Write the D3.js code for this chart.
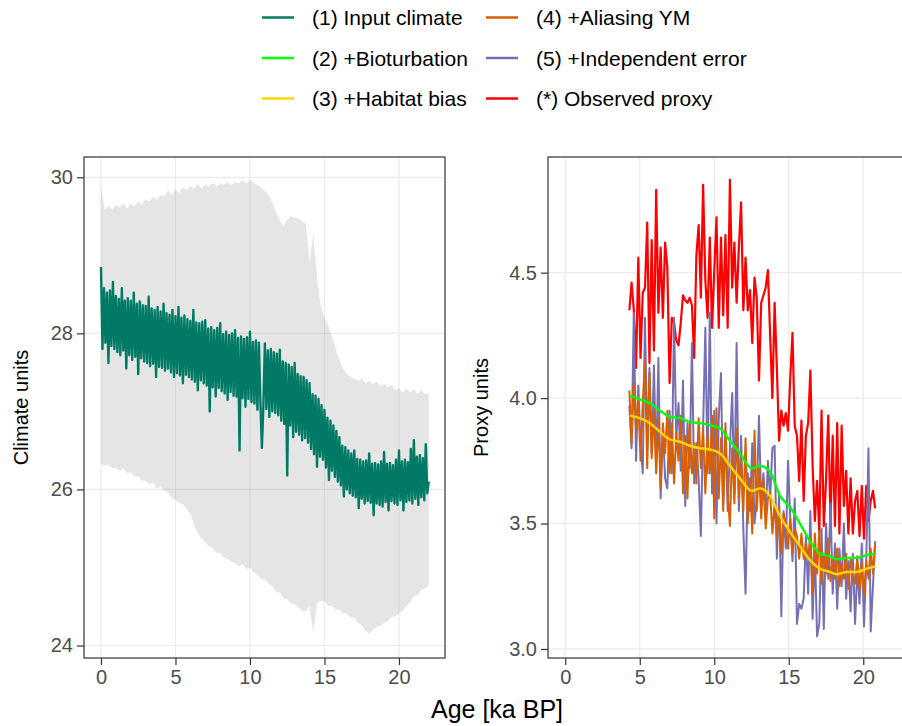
<!DOCTYPE html>
<html>
<head>
<meta charset="utf-8">
<script src="https://cdn.jsdelivr.net/npm/d3@7"></script>
<style>
body { margin: 0; background: #fff; }
text { font-family: "Liberation Sans", Arial, Helvetica, sans-serif; }
</style>
</head>
<body>
<div id="chart"></div>
<script>
var W = 902, H = 726;

// legend
var legendLabels = ['(1) Input climate', '(2) +Bioturbation', '(3) +Habitat bias',
                    '(4) +Aliasing YM', '(5) +Independent error', '(*) Observed proxy'];
var legendColors = ['#007a65', '#00ff00', '#ffd700', '#d95f02', '#7570b3', '#ff0000'];

var xTicks = [0, 5, 10, 15, 20];
var climTicks = [24, 26, 28, 30];
var proxyTicks = [3.0, 3.5, 4.0, 4.5];

// left panel: input climate, sampled every 0.1 ka from 0 to 22 ka
var climAge = d3.range(0, 22.05, 0.1);
var climVal = [
  28.85, 27.80, 28.58, 27.88, 28.52, 27.62, 28.55, 27.84, 28.66, 27.80,
  28.48, 27.76, 28.44, 27.72, 28.58, 27.78, 28.42, 27.55, 28.45, 27.72,
  28.42, 27.66, 28.52, 27.70, 28.38, 27.48, 28.41, 27.68, 28.36, 27.64,
  28.35, 27.62, 28.47, 27.58, 28.32, 27.61, 28.30, 27.44, 28.34, 27.57,
  28.28, 27.56, 28.38, 27.52, 28.26, 27.55, 28.24, 27.50, 28.30, 27.44,
  28.22, 27.49, 28.34, 27.46, 28.20, 27.36, 28.23, 27.47, 28.18, 27.44,
  28.16, 27.41, 28.30, 27.38, 28.14, 27.27, 28.13, 27.40, 28.15, 27.36,
  28.17, 27.33, 28.06, 27.00, 28.08, 27.31, 28.04, 27.19, 28.07, 27.30,
  28.13, 27.26, 27.99, 27.23, 28.02, 27.15, 27.98, 27.25, 28.00, 27.20,
  28.04, 27.19, 27.94, 26.50, 27.96, 27.17, 27.93, 27.06, 27.95, 27.16,
  28.02, 27.12, 27.89, 27.10, 27.91, 27.02, 27.88, 27.11, 26.53, 27.08,
  27.87, 27.03, 27.78, 26.93, 27.80, 27.00, 27.76, 26.98, 27.74, 26.95,
  27.79, 26.88, 27.64, 26.84, 27.62, 26.18, 27.60, 26.82, 27.57, 26.67,
  27.62, 26.74, 27.48, 26.70, 27.45, 26.63, 27.44, 26.66, 27.40, 26.60,
  27.36, 26.52, 27.22, 26.45, 27.20, 26.29, 27.16, 26.42, 27.08, 26.38,
  27.02, 26.28, 26.92, 26.12, 26.88, 26.24, 26.82, 26.16, 26.75, 26.10,
  26.67, 26.05, 26.56, 25.91, 26.54, 26.00, 26.50, 25.95, 26.46, 25.92,
  26.50, 25.90, 26.39, 25.76, 26.38, 25.88, 26.36, 25.82, 26.37, 25.85,
  26.46, 25.83, 26.33, 25.67, 26.34, 25.82, 26.32, 25.80, 26.36, 25.78,
  26.48, 25.84, 26.33, 25.73, 26.34, 25.85, 26.31, 25.82, 26.38, 25.80,
  26.50, 25.86, 26.36, 25.73, 26.38, 25.84, 26.35, 25.86, 26.52, 25.82,
  26.63, 25.88, 26.42, 25.80, 26.44, 25.90, 26.40, 25.86, 26.58, 25.95,
  26.10
];

// grey band round the input climate, every 0.25 ka
var bandAge = d3.range(0, 22.01, 0.25);
var bandUpper = [
  29.88, 29.58, 29.64, 29.59, 29.65, 29.61, 29.67, 29.60, 29.66, 29.63,
  29.69, 29.65, 29.72, 29.69, 29.75, 29.71, 29.78, 29.75, 29.83, 29.77,
  29.85, 29.80, 29.87, 29.83, 29.89, 29.85, 29.91, 29.86, 29.91, 29.88,
  29.93, 29.88, 29.93, 29.90, 29.94, 29.90, 29.94, 29.92, 29.96, 29.92,
  29.97, 29.93, 29.90, 29.87, 29.82, 29.77, 29.68, 29.55, 29.45, 29.37,
  29.46, 29.50, 29.48, 29.47, 29.44, 29.40, 28.90, 29.28, 28.70, 28.35,
  28.20, 28.10, 27.96, 27.80, 27.66, 27.55, 27.48, 27.44, 27.42, 27.39,
  27.42, 27.36, 27.39, 27.35, 27.38, 27.32, 27.35, 27.31, 27.34, 27.27,
  27.30, 27.24, 27.29, 27.25, 27.28, 27.23, 27.27, 27.22, 27.24
];
var bandLower = [
  26.33, 26.30, 26.32, 26.27, 26.28, 26.24, 26.27, 26.21, 26.22, 26.17,
  26.17, 26.11, 26.11, 26.07, 26.09, 26.01, 26.04, 25.98, 25.96, 25.89,
  25.87, 25.83, 25.81, 25.75, 25.69, 25.55, 25.44, 25.37, 25.32, 25.27,
  25.25, 25.19, 25.19, 25.13, 25.11, 25.07, 25.06, 25.01, 25.04, 24.98,
  25.00, 24.94, 24.91, 24.85, 24.85, 24.79, 24.76, 24.69, 24.68, 24.61,
  24.59, 24.54, 24.53, 24.49, 24.45, 24.44, 24.50, 24.17, 24.55, 24.57,
  24.57, 24.51, 24.51, 24.46, 24.46, 24.41, 24.41, 24.36, 24.36, 24.29,
  24.26, 24.19, 24.15, 24.20, 24.24, 24.25, 24.29, 24.31, 24.37, 24.37,
  24.42, 24.44, 24.51, 24.55, 24.63, 24.65, 24.71, 24.73, 24.77
];

// right panel: proxy samples every 0.15 ka from 4.3 to 20.8 ka
var proxyAge = d3.range(4.3, 20.81, 0.15);
var observedVal = [
  4.35, 4.46, 4.35, 4.12, 4.56, 4.16, 4.42, 4.44, 4.70, 4.14,
  4.63, 4.19, 4.83, 4.34, 4.60, 4.32, 4.62, 4.52, 4.06, 4.32,
  4.30, 4.23, 4.21, 4.30, 4.41, 4.39, 4.38, 4.40, 4.37, 4.16,
  4.57, 4.69, 4.40, 4.85, 4.47, 4.32, 4.64, 4.28, 4.51, 4.72,
  4.28, 4.64, 4.33, 4.65, 4.28, 4.87, 4.44, 4.62, 4.38, 4.60,
  4.78, 4.35, 4.56, 4.35, 4.43, 4.22, 4.48, 4.40, 4.07, 4.38,
  4.41, 4.44, 4.51, 4.25, 4.00, 4.38, 4.12, 3.83, 3.95, 3.89,
  3.94, 3.87, 4.08, 4.26, 3.89, 3.85, 3.67, 3.91, 3.59, 3.85,
  3.90, 4.11, 3.73, 3.51, 3.67, 3.46, 3.95, 3.49, 3.67, 3.93,
  3.51, 3.85, 3.49, 3.90, 3.46, 3.89, 3.57, 3.71, 3.46, 3.68,
  3.46, 3.59, 3.63, 3.45, 3.65, 3.44, 3.65, 3.51, 3.59, 3.63, 3.56
];
var independentVal = [
  3.97, 3.80, 4.34, 3.75, 4.05, 3.82, 3.70, 4.32, 3.80, 4.12,
  3.78, 4.13, 3.72, 4.16, 3.60, 3.88, 3.68, 3.64, 3.95, 3.70,
  4.32, 3.84, 3.98, 3.71, 4.07, 3.57, 3.90, 3.72, 4.22, 3.66,
  3.82, 3.68, 3.45, 3.88, 4.28, 3.70, 4.34, 3.62, 3.95, 3.50,
  3.92, 4.10, 3.58, 3.86, 3.55, 3.80, 4.02, 3.62, 4.22, 3.55,
  3.85, 3.48, 3.22, 3.70, 3.55, 3.82, 3.50, 3.60, 3.93, 3.58,
  3.70, 3.52, 3.75, 3.60, 3.80, 3.81, 3.36, 3.62, 3.13, 3.55,
  3.40, 3.75, 3.52, 3.35, 3.60, 3.10, 3.18, 3.16, 3.20, 3.45,
  3.22, 3.55, 3.12, 3.40, 3.05, 3.10, 3.48, 3.08, 3.50, 3.28,
  3.58, 3.22, 3.42, 3.16, 3.40, 3.25, 3.50, 3.20, 3.35, 3.15,
  3.38, 3.10, 3.32, 3.18, 3.42, 3.09, 3.35, 3.80, 3.07, 3.25, 3.43
];
var aliasingVal = [
  4.03, 3.82, 4.06, 3.88, 4.00, 3.75, 3.98, 4.15, 3.72, 4.10,
  3.76, 3.95, 3.70, 3.92, 3.64, 3.90, 3.78, 3.95, 3.70, 3.90,
  3.66, 3.86, 3.75, 3.93, 3.62, 3.85, 3.60, 3.90, 3.70, 3.82,
  3.66, 3.92, 3.72, 3.88, 3.62, 3.85, 3.70, 3.93, 3.52, 3.96,
  3.60, 3.84, 3.55, 3.90, 3.62, 3.49, 3.80, 3.58, 3.88, 3.60,
  3.75, 3.55, 3.84, 3.50, 3.68, 3.46, 3.87, 3.55, 3.72, 3.52,
  3.68, 3.48, 3.60, 3.62, 3.46, 3.58, 3.44, 3.56, 3.38, 3.54,
  3.50, 3.40, 3.52, 3.38, 3.48, 3.45, 3.36, 3.46, 3.36, 3.42,
  3.36, 3.44, 3.22, 3.46, 3.30, 3.47, 3.26, 3.38, 3.30, 3.44,
  3.27, 3.36, 3.28, 3.40, 3.25, 3.34, 3.28, 3.38, 3.24, 3.36,
  3.30, 3.26, 3.37, 3.24, 3.34, 3.21, 3.35, 3.28, 3.40, 3.30, 3.42
];

// smooth lines
var smoothAge = [4.34, 5.0, 5.68, 6.36, 7.03, 7.7, 8.37, 9.04, 9.71, 10.38, 11.05, 11.72, 12.51,
                 13.07, 13.74, 14.41, 15.08, 15.75, 16.42, 17.09, 17.76, 18.21, 18.89, 19.56, 20.23, 20.85];
var bioturbVal = [4.01, 3.995, 3.98, 3.95, 3.925, 3.92, 3.905, 3.90, 3.892, 3.879, 3.83, 3.78, 3.72,
                  3.73, 3.706, 3.61, 3.566, 3.50, 3.43, 3.38, 3.37, 3.357, 3.363, 3.363, 3.374, 3.38];
var habitatVal = [3.93, 3.92, 3.90, 3.866, 3.835, 3.826, 3.81, 3.80, 3.795, 3.78, 3.73, 3.68, 3.63,
                  3.64, 3.61, 3.53, 3.467, 3.41, 3.354, 3.32, 3.307, 3.298, 3.307, 3.307, 3.32, 3.33];

var svg = d3.select('#chart').append('svg')
    .attr('width', W)
    .attr('height', H);

function makePanel(p) {
    var x = d3.scaleLinear().domain(p.xDomain).range([p.left, p.right]);
    var y = d3.scaleLinear().domain(p.yDomain).range([p.bottom, p.top]);

    var grid = svg.append('g');
    grid.selectAll('.vg').data(xTicks).enter().append('line')
        .attr('x1', function(d) { return x(d); })
        .attr('x2', function(d) { return x(d); })
        .attr('y1', p.top).attr('y2', p.bottom)
        .attr('stroke', '#ebebeb').attr('stroke-width', 1.2);
    grid.selectAll('.hg').data(p.yTicks).enter().append('line')
        .attr('y1', function(d) { return y(d); })
        .attr('y2', function(d) { return y(d); })
        .attr('x1', p.left).attr('x2', p.right)
        .attr('stroke', '#ebebeb').attr('stroke-width', 1.2);

    svg.append('clipPath').attr('id', p.id)
        .append('rect')
        .attr('x', p.left).attr('y', p.top)
        .attr('width', p.right - p.left).attr('height', p.bottom - p.top);

    var marks = svg.append('g').attr('clip-path', 'url(#' + p.id + ')');
    var frame = svg.append('g');

    return {x: x, y: y, marks: marks, frame: frame, p: p};
}

function finishPanel(pan) {
    var p = pan.p;
    pan.frame.append('rect')
        .attr('x', p.left).attr('y', p.top)
        .attr('width', p.right - p.left).attr('height', p.bottom - p.top)
        .attr('fill', 'none').attr('stroke', '#333333').attr('stroke-width', 1.2);

    var xa = pan.frame.append('g')
        .attr('transform', 'translate(0,' + p.bottom + ')')
        .call(d3.axisBottom(pan.x).tickValues(xTicks).tickSize(7).tickPadding(5));
    var ya = pan.frame.append('g')
        .attr('transform', 'translate(' + p.left + ',0)')
        .call(d3.axisLeft(pan.y).tickValues(p.yTicks).tickSize(7).tickPadding(4).tickFormat(p.fmt));

    [xa, ya].forEach(function(a) {
        a.select('.domain').remove();
        a.attr('font-family', null).attr('font-size', 20);
        a.selectAll('line').attr('stroke', '#333333').attr('stroke-width', 1.2);
        a.selectAll('text').attr('fill', '#4d4d4d');
    });

    pan.frame.append('text')
        .attr('transform', 'translate(' + p.ylabX + ',' + ((p.top + p.bottom) / 2) + ') rotate(-90)')
        .attr('text-anchor', 'middle')
        .attr('dy', '0.36em')
        .style('font-size', '20px')
        .text(p.ylab);
}

function drawLine(pan, ages, vals, color, w, curve) {
    var line = d3.line()
        .x(function(d, i) { return pan.x(ages[i]); })
        .y(function(d) { return pan.y(d); });
    if (curve) line.curve(curve);
    pan.marks.append('path')
        .datum(vals)
        .attr('d', line)
        .attr('fill', 'none')
        .attr('stroke', color)
        .attr('stroke-width', w)
        .attr('stroke-linejoin', 'round');
}

// left panel
var left = makePanel({id: 'clipL', left: 84, right: 445, top: 157, bottom: 658,
    xDomain: [-1.14, 23.09], yDomain: [23.84, 30.26], yTicks: climTicks,
    fmt: d3.format('d'), ylab: 'Climate units', ylabX: 21});

var band = d3.area()
    .x(function(d, i) { return left.x(bandAge[i]); })
    .y0(function(d, i) { return left.y(bandLower[i]); })
    .y1(function(d) { return left.y(d); });
left.marks.append('path')
    .datum(bandUpper)
    .attr('d', band)
    .attr('fill', '#999999')
    .attr('fill-opacity', 0.25);

drawLine(left, climAge, climVal, legendColors[0], 2.4);
finishPanel(left);

// right panel
var right = makePanel({id: 'clipR', left: 548, right: 909, top: 157, bottom: 658,
    xDomain: [-1.16, 23.07], yDomain: [2.964, 4.961], yTicks: proxyTicks,
    fmt: d3.format('.1f'), ylab: 'Proxy units', ylabX: 481});

drawLine(right, proxyAge, observedVal, legendColors[5], 2.2);
drawLine(right, proxyAge, independentVal, legendColors[4], 2);
drawLine(right, proxyAge, aliasingVal, legendColors[3], 2);
drawLine(right, smoothAge, bioturbVal, legendColors[1], 2.4, d3.curveMonotoneX);
drawLine(right, smoothAge, habitatVal, legendColors[2], 2.4, d3.curveMonotoneX);
finishPanel(right);

// shared x title
svg.append('text')
    .attr('x', 497)
    .attr('y', 718)
    .attr('text-anchor', 'middle')
    .style('font-size', '25px')
    .text('Age [ka BP]');

// legend, two columns of three
var legend = svg.append('g');
var item = legend.selectAll('.item')
    .data(legendLabels)
    .enter().append('g')
    .attr('transform', function(d, i) {
        var col = Math.floor(i / 3), row = i % 3;
        return 'translate(' + (262 + col * 224) + ',' + (17.5 + row * 40.5) + ')';
    });
item.append('line')
    .attr('x1', 0).attr('x2', 32)
    .attr('stroke', function(d, i) { return legendColors[i]; })
    .attr('stroke-width', 2.5);
item.append('text')
    .attr('x', 50)
    .attr('dy', '0.36em')
    .style('font-size', '21px')
    .text(function(d) { return d; });
</script>
</body>
</html>
